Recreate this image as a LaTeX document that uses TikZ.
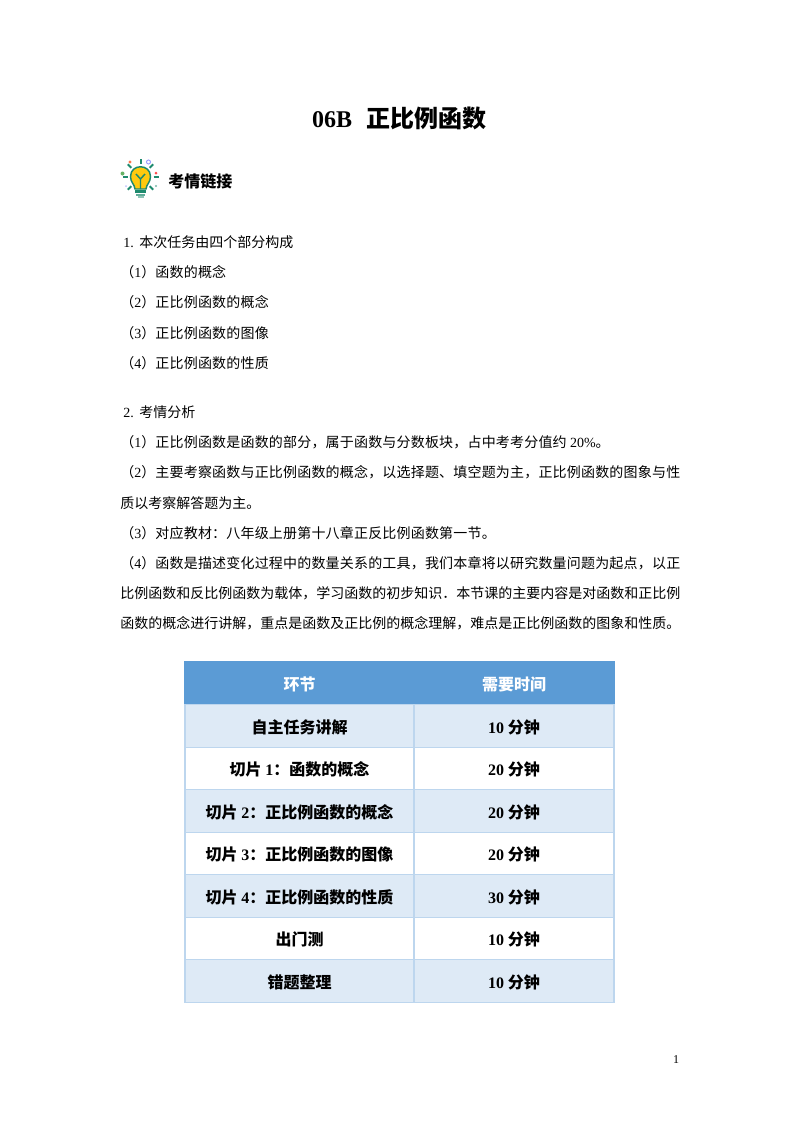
\documentclass[tikz,border=0pt]{standalone}
\usepackage{fontspec}
\setmainfont{Noto Sans CJK SC}
\newfontfamily\latinfont{Liberation Serif}
\usetikzlibrary{positioning}
\newcommand{\lat}[1]{{\latinfont #1}}
\newcommand{\spread}{\addfontfeature{LetterSpace=1.35}}
\definecolor{headblue}{HTML}{5B9BD5}
\definecolor{rowblue}{HTML}{DEEAF6}
\definecolor{gridblue}{HTML}{BDD6EE}
\definecolor{bulbyellow}{HTML}{FFC90E}
\definecolor{bulbgreen}{HTML}{1E8A6E}
\tikzset{
  bodyline/.style={anchor=base west,inner sep=0pt,font=\fontsize{10.5}{12}\selectfont},
  cell/.style={draw=gridblue,line width=.8pt,fill=white,inner sep=0pt,outer sep=0pt,minimum height=31.9pt,text height=12pt,text depth=.8pt,font=\fontsize{12}{14}\selectfont\bfseries},
  leftcell/.style={cell,minimum width=171.75pt},
  rightcell/.style={cell,minimum width=150pt},
  shaded/.style={fill=rowblue},
  headcell/.style={draw=headblue,fill=headblue,text=white},
  ray/.style={draw=bulbgreen,line width=1.5pt},
}
\begin{document}
\begin{tikzpicture}[x=.75pt,y=-.75pt]
  \useasboundingbox (0,0) rectangle (800,1132);
  \fill[white] (0,0) rectangle (800,1132);
  \node[anchor=base,inner sep=0pt,font=\fontsize{18}{20}\selectfont\bfseries] (title) at (399.5,127) {\lat{06B}\hspace{.62em}正比例函数};

  \foreach \a in {-90,-45,0,45,135,180,225}
    \draw[ray] (140.5,177) ++(\a:13) -- ++(\a:5);
  \fill[bulbyellow,draw=bulbgreen,line width=1.1pt] (135,189) .. controls (134.5,184) and (130.5,182.5) .. (130.5,176.5) .. controls (130.5,163.5) and (150.5,163.5) .. (150.5,176.5) .. controls (150.5,182.5) and (146.5,184) .. (146,189) -- cycle;
  \draw[bulbgreen,line width=1.1pt] (140.5,189) -- (140.5,179) -- (136,174) (140.5,179) -- (145,174);
  \fill[bulbgreen] (135,190) rectangle (146,192.5);
  \fill[bulbgreen!70] (136,193.5) rectangle (145,195.5);
  \fill[bulbgreen!50] (137.5,196) rectangle (143.5,198);
  \fill[red!55!orange!70] (130,162) circle (1.6);
  \draw[blue!40,line width=.7pt] (148.5,162) circle (2);
  \fill[green!50!black!60] (122.5,173.5) circle (2);
  \fill[red!70] (156,173) circle (1.5);
  \fill[bulbgreen!60] (156,186) circle (1.2);
  \fill[blue!25] (126,186) circle (1);
  \node[bodyline,font=\fontsize{12}{14}\selectfont\bfseries] (lesson) at (168,187) {考情链接};

  \node[bodyline] (partA) at (123,247) {\lat{1.}\hspace{.4em}本次任务由四个部分构成};
  \node[bodyline] (partA1) at (120,277) {\spread （\lat{1}）函数的概念};
  \node[bodyline] (partA2) at (120,307) {\spread （\lat{2}）正比例函数的概念};
  \node[bodyline] (partA3) at (120,338) {\spread （\lat{3}）正比例函数的图像};
  \node[bodyline] (partA4) at (120,368) {\spread （\lat{4}）正比例函数的性质};

  \node[bodyline] (partB) at (123,417) {\lat{2.}\hspace{.4em}考情分析};
  \node[bodyline] (partB1) at (120,447) {\spread （\lat{1}）正比例函数是函数的部分，属于函数与分数板块，占中考考分值约 \lat{20\%}。};
  \node[bodyline] (partB2) at (120,477) {\spread （\lat{2}）主要考察函数与正比例函数的概念，以选择题、填空题为主，正比例函数的图象与性};
  \node[bodyline] (partB2b) at (120,508) {质以考察解答题为主。};
  \node[bodyline] (partB3) at (120,538) {\spread （\lat{3}）对应教材：八年级上册第十八章正反比例函数第一节。};
  \node[bodyline] (partB4) at (120,568) {\spread （\lat{4}）函数是描述变化过程中的数量关系的工具，我们本章将以研究数量问题为起点，以正};
  \node[bodyline] (partB4b) at (120,598) {比例函数和反比例函数为载体，学习函数的初步知识．本节课的主要内容是对函数和正比例};
  \node[bodyline] (partB4c) at (120,628) {函数的概念进行讲解，重点是函数及正比例的概念理解，难点是正比例函数的图象和性质。};

  \node[leftcell,headcell,anchor=north west] (stepA) at (185,662) {环节};
  \node[rightcell,headcell,right=0pt of stepA] (timeA) {需要时间};
  \node[leftcell,shaded,below=0pt of stepA] (stepB) {自主任务讲解};
  \node[rightcell,shaded,right=0pt of stepB] (timeB) {\lat{10} 分钟};
  \node[leftcell,below=0pt of stepB] (stepC) {切片 \lat{1}：函数的概念};
  \node[rightcell,right=0pt of stepC] (timeC) {\lat{20} 分钟};
  \node[leftcell,shaded,below=0pt of stepC] (stepD) {切片 \lat{2}：正比例函数的概念};
  \node[rightcell,shaded,right=0pt of stepD] (timeD) {\lat{20} 分钟};
  \node[leftcell,below=0pt of stepD] (stepE) {切片 \lat{3}：正比例函数的图像};
  \node[rightcell,right=0pt of stepE] (timeE) {\lat{20} 分钟};
  \node[leftcell,shaded,below=0pt of stepE] (stepF) {切片 \lat{4}：正比例函数的性质};
  \node[rightcell,shaded,right=0pt of stepF] (timeF) {\lat{30} 分钟};
  \node[leftcell,below=0pt of stepF] (stepG) {出门测};
  \node[rightcell,right=0pt of stepG] (timeG) {\lat{10} 分钟};
  \node[leftcell,shaded,below=0pt of stepG] (stepH) {错题整理};
  \node[rightcell,shaded,right=0pt of stepH] (timeH) {\lat{10} 分钟};

  \node[anchor=base,inner sep=0pt,font=\latinfont\fontsize{9}{10}\selectfont] (pagenum) at (676,1063) {1};
\end{tikzpicture}
\end{document}
